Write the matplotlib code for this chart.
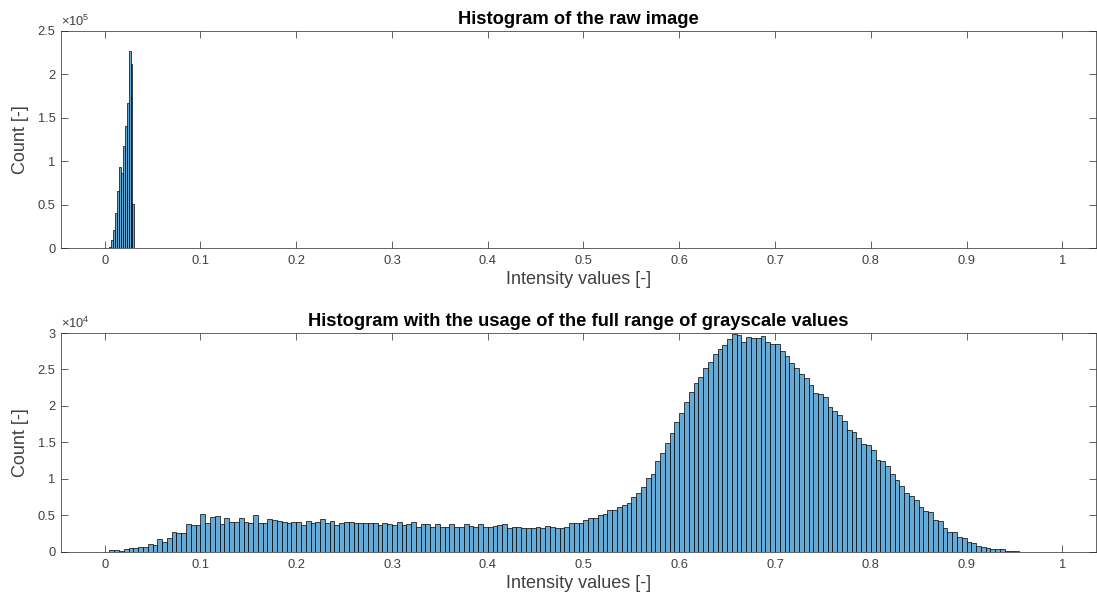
import matplotlib
matplotlib.use('Agg')
import matplotlib.pyplot as plt
import numpy as np

plt.rcParams['font.family'] = ['Liberation Sans', 'DejaVu Sans']
plt.rcParams['mathtext.fontset'] = 'custom'
plt.rcParams['mathtext.rm'] = 'Liberation Sans'
plt.rcParams['mathtext.it'] = 'Liberation Sans'

# ---------------- data ----------------
raw_bin_start = 0.005
raw_bin_width = 0.002
raw_counts = [1500, 9500, 21000, 40000, 66000, 93000, 87000, 117000, 140000,
              167000, 227000, 212000, 51000]

full_bin_start = 0.005
full_bin_width = 0.005
full_counts = [
    183, 183, 46, 320, 457, 457, 594, 594, 1006, 869,
    1692, 1372, 1921, 2744, 2607, 2607, 3750, 3613, 3613, 5122,
    3887, 4802, 4939, 3750, 4665, 4116, 4116, 4665,
    4116, 3979, 4985, 3979, 3979, 4528, 4299, 4253, 4116, 3887,
    4116, 4116, 3613, 4253, 3887, 4024, 4436, 3887, 4253, 3613,
    3887, 4116, 4116, 3979, 3979, 3979, 3979, 3887,
    3659, 3887, 3750, 3613, 4024, 3613, 3750, 4024, 3430, 3750,
    3750, 3430, 3750, 3430, 3430, 3750, 3430, 3339, 3750, 3522,
    3339, 3750, 3430, 3339, 3522, 3659, 3750,
    3201, 3339, 3339, 3201, 3201, 3201, 3430, 3201, 3567, 3430,
    3293, 3293, 3430, 3887, 3887, 3887, 4299, 4573, 4573, 4985,
    5214, 5671, 5671, 6174, 6448, 6723, 7500, 8095,
    8850, 10153, 10656, 12394, 13491, 14863, 16235, 17745, 18979, 20489,
    21860, 23095, 23918, 25153, 26068, 27074, 27852, 28355, 29178, 29818,
    29772, 28720, 29406, 29360, 29315, 29589, 28720, 28538, 28538,
    27532, 26891, 25839, 25153, 24330, 23781, 22867, 21723, 21586, 21220,
    19894, 19345, 18751, 17973, 16693, 16372, 15641, 14726, 14589, 13903,
    12531, 12439, 11754, 10702, 9833, 9009, 8095, 7683, 7089, 6174,
    5534, 5442, 4345, 4253, 3201, 2652, 2652, 2058, 1829,
    1281, 1143, 823, 594, 549, 412, 412, 320, 137, 137, 137,
]

x_ticks = [0, 0.1, 0.2, 0.3, 0.4, 0.5, 0.6, 0.7, 0.8, 0.9, 1.0]
x_tick_labels = ['0', '0.1', '0.2', '0.3', '0.4', '0.5', '0.6', '0.7', '0.8', '0.9', '1']
raw_y_ticks = [0, 50000, 100000, 150000, 200000, 250000]
raw_y_tick_labels = ['0', '0.5', '1', '1.5', '2', '2.5']
full_y_ticks = [0, 5000, 10000, 15000, 20000, 25000, 30000]
full_y_tick_labels = ['0', '0.5', '1', '1.5', '2', '2.5', '3']

title_raw = 'Histogram of the raw image'
title_full = 'Histogram with the usage of the full range of grayscale values'
x_label = 'Intensity values [-]'
y_label = 'Count [-]'

# ---------------- style ----------------
W, H = 1097, 601
face = (0.4, 0.668, 0.845)
axis_col = '#262626'
label_col = '#404040'

fig = plt.figure(figsize=(W / 100, H / 100), dpi=100)
ax1 = fig.add_axes([61 / W, (H - 248.3) / H, 1035 / W, 217.8 / H])
ax2 = fig.add_axes([61 / W, (H - 551.7) / H, 1035 / W, 218.7 / H])


def draw(ax, start, width, counts):
    counts = np.asarray(counts, dtype=float)
    lefts = start + width * np.arange(len(counts))
    ax.bar(lefts, counts, width=width, align='edge', color=face,
           edgecolor='black', linewidth=0.5)


def style(ax, yticks, ylabels, ymax, exp, title):
    ax.set_xlim(-0.0456, 1.0352)
    ax.set_ylim(0, ymax)
    ax.set_xticks(x_ticks)
    ax.set_xticklabels(x_tick_labels)
    ax.set_yticks(yticks)
    ax.set_yticklabels(ylabels)
    ax.tick_params(direction='in', top=True, right=True, length=4.8, width=0.5,
                   color=axis_col, labelcolor=label_col, labelsize=9.3)
    ax.tick_params(axis='x', pad=5)
    ax.tick_params(axis='y', pad=4)
    for s in ax.spines.values():
        s.set_linewidth(0.5)
        s.set_color(axis_col)
    ax.set_xlabel(x_label, fontsize=13, color=label_col, labelpad=3)
    ax.set_ylabel(y_label, fontsize=13, color=label_col, labelpad=6)
    ax.set_title(title, fontsize=13.2, fontweight='bold', color='black', pad=5)
    ax.text(0, 1.008, r'$\times10^{%d}$' % exp, transform=ax.transAxes,
            fontsize=9.3, color=label_col, ha='left', va='bottom')


draw(ax1, raw_bin_start, raw_bin_width, raw_counts)
draw(ax2, full_bin_start, full_bin_width, full_counts)
style(ax1, raw_y_ticks, raw_y_tick_labels, 250000, 5, title_raw)
style(ax2, full_y_ticks, full_y_tick_labels, 30000, 4, title_full)

fig.savefig('out.png', dpi=100)
